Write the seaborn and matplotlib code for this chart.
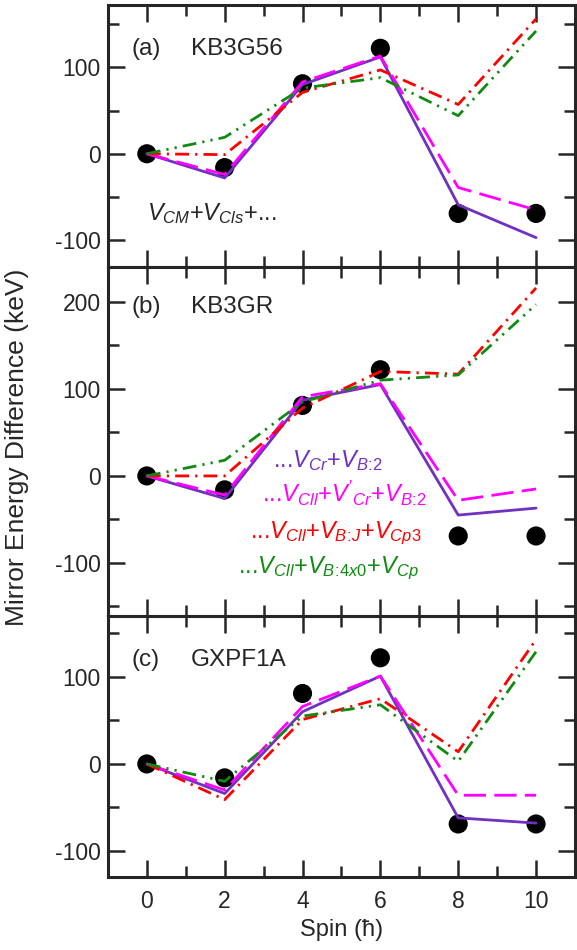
import matplotlib
matplotlib.use("Agg")
import matplotlib.pyplot as plt
from matplotlib.ticker import MultipleLocator
import pandas as pd
import seaborn as sns

# spin values and measured mirror energy differences (keV)
spin = [0, 2, 4, 6, 8, 10]
exp_med = [0, -16, 81, 122, -69, -69]

# calculations per interaction, four variants each
kb3g56_cr = [0, -28, 80, 112, -59, -97]
kb3g56_cll_cr = [0, -24, 83, 113, -39, -65]
kb3g56_bj = [0, -1, 71, 97, 57, 156]
kb3g56_b4x0 = [0, 19, 76, 88, 44, 142]

kb3gr_cr = [0, -26, 87, 105, -45, -37]
kb3gr_cll_cr = [0, -22, 91, 106, -28, -15]
kb3gr_bj = [0, 0, 78, 120, 117, 216]
kb3gr_b4x0 = [0, 18, 85, 110, 116, 197]

gxpf1a_cr = [0, -34, 60, 101, -62, -68]
gxpf1a_cll_cr = [0, -30, 66, 101, -36, -36]
gxpf1a_bj = [0, -41, 51, 75, 14, 143]
gxpf1a_b4x0 = [0, -20, 55, 68, 3, 129]

models = ["cr", "cll_cr", "bj", "b4x0"]
colors = {"cr": "#7030c0", "cll_cr": "#ff00ff", "bj": "#ff0000", "b4x0": "#108a10"}
dashes = {"cr": "", "cll_cr": (8, 3), "bj": (5, 2.2, 0.8, 2.2), "b4x0": (5, 2.2, 0.8, 2.2, 0.8, 2.2)}

panels = [
    ("(a)", "KB3G56", [kb3g56_cr, kb3g56_cll_cr, kb3g56_bj, kb3g56_b4x0], (-131, 172)),
    ("(b)", "KB3GR", [kb3gr_cr, kb3gr_cll_cr, kb3gr_bj, kb3gr_b4x0], (-161, 240)),
    ("(c)", "GXPF1A", [gxpf1a_cr, gxpf1a_cll_cr, gxpf1a_bj, gxpf1a_b4x0], (-130, 170)),
]
label_y = [0.832, 0.885, 0.831]

sns.set_style("ticks")
plt.rcParams["font.family"] = ["Liberation Sans", "DejaVu Sans"]
plt.rcParams["mathtext.fontset"] = "custom"
plt.rcParams["mathtext.rm"] = "Liberation Sans"
plt.rcParams["mathtext.it"] = "Liberation Sans:italic"
plt.rcParams["axes.unicode_minus"] = False

fig, axes = plt.subplots(3, 1, figsize=(5.77, 9.5), dpi=100, sharex=True,
                         gridspec_kw={"height_ratios": [262, 349, 261], "hspace": 0})
fig.subplots_adjust(left=0.187, right=0.9965, top=0.9947, bottom=0.0768)

for i, (ax, (tag, name, series, ylim)) in enumerate(zip(axes, panels)):
    rows = []
    for m, vals in zip(models, series):
        for s, v in zip(spin, vals):
            rows.append({"spin": s, "med": v, "model": m})
    df = pd.DataFrame(rows)
    sns.scatterplot(x=spin, y=exp_med, ax=ax, color="black", s=190, edgecolor="none", zorder=2)
    sns.lineplot(data=df, x="spin", y="med", hue="model", style="model", palette=colors,
                 dashes=dashes, ax=ax, linewidth=2.0, legend=False, zorder=3)
    ax.set_xlim(-1, 11)
    ax.set_ylim(*ylim)
    ax.xaxis.set_major_locator(MultipleLocator(2))
    ax.xaxis.set_minor_locator(MultipleLocator(1))
    ax.yaxis.set_major_locator(MultipleLocator(100))
    ax.yaxis.set_minor_locator(MultipleLocator(50))
    ax.tick_params(which="both", direction="in", top=True, right=True, width=1.8, labelsize=16.5)
    ax.tick_params(which="major", length=12, pad=5)
    ax.tick_params(which="minor", length=8)
    ax.tick_params(axis="x", pad=9)
    for sp in ax.spines.values():
        sp.set_linewidth(2.2)
    ax.set_ylabel("")
    ax.set_xlabel("")
    ax.text(0.051, label_y[i], tag, transform=ax.transAxes, fontsize=17.5, va="center", ha="left")
    ax.text(0.178, label_y[i], name, transform=ax.transAxes, fontsize=17.5, va="center", ha="left")

axes[0].text(0.084, 0.179, r"$V_{CM}$+$V_{Cls}$+...", transform=axes[0].transAxes,
             fontsize=17, ha="left", va="baseline")

# coloured model labels in panel (b)
legend_texts = [
    (r"...$V_{Cr}$+$V_{B\!:\!2}$", colors["cr"], 0.353, 0.427),
    (r"...$V_{Cll}$+$V'_{Cr}$+$V_{B\!:\!2}$", colors["cll_cr"], 0.330, 0.327),
    (r"...$V_{Cll}$+$V_{B\!:\!J}$+$V_{Cp3}$", colors["bj"], 0.304, 0.223),
    (r"...$V_{Cll}$+$V_{B\!:\!4x0}$+$V_{Cp}$", colors["b4x0"], 0.278, 0.123),
]
for txt, c, x, y in legend_texts:
    axes[1].text(x, y, txt, color=c, transform=axes[1].transAxes, fontsize=17, ha="left", va="baseline")

axes[2].set_xlabel("Spin (ħ)", fontsize=17, labelpad=5)
fig.text(0.029, 0.529, "Mirror Energy Difference (keV)", rotation=90, fontsize=19,
         ha="center", va="center")

fig.savefig("out.png", dpi=100)
